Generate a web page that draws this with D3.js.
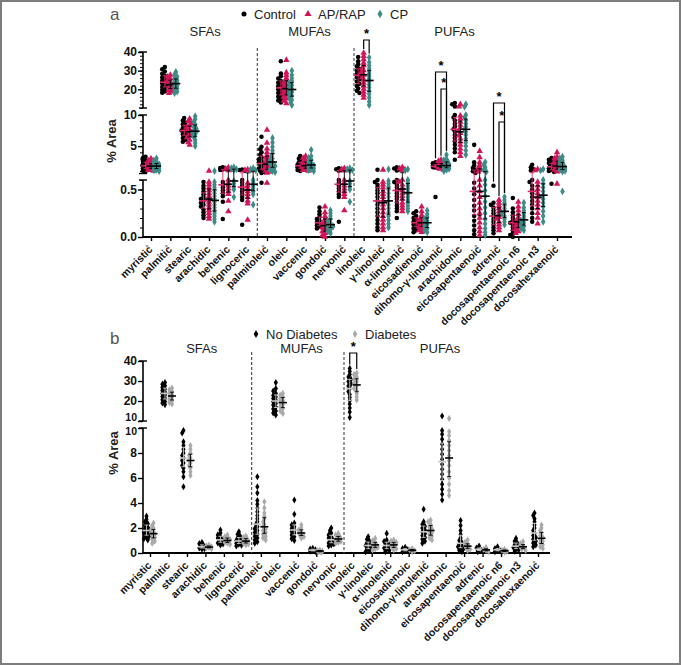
<!DOCTYPE html>
<html><head><meta charset="utf-8">
<script src="https://cdn.jsdelivr.net/npm/d3@7"></script>
<style>body{margin:0;background:#fff}svg{display:block}text{font-family:"Liberation Sans",Arial,sans-serif}</style>
</head><body><svg id="c" width="681" height="665"></svg>
<script>
// ---------------- DATA ----------------
const categories = ["myristic","palmitic","stearic","arachidic","behenic","lignoceric",
  "palmitoleic","oleic","vaccenic","gondoic","nervonic",
  "linoleic","γ-linoleic","α-linolenic","eicosadienoic","dihomo-γ-linolenic","arachidonic",
  "eicosapentaenoic","adrenic","docosapentaenoic n6","docosapentaenoic n3","docosahexaenoic"];
const markedA = [0,1,6,9,10,12,13,14,15,17,18,20,21];
const markedB = [4,5,6,8,9,13,15,17,19,20,21];
const families = ["SFAs","MUFAs","PUFAs"];
const familyBounds = [5.5,10.5];
const familyLabelPos = [2.8,8.2,15.7];
const groupsA = ["Control","AP/RAP","CP"];
const groupsB = ["No Diabetes","Diabetes"];

const controlA = [
 [0.92,1.05,1.18,1.3,1.42,1.55,1.66,1.78,1.85,1.97,2.1,2.25,2.4,2.6,2.85,3.1,3.3],
 [18.2,18.9,19.7,20.5,21.3,22.0,22.6,23.1,23.8,24.6,25.5,26.4,27.3,28.4,29.6,30.8,32.0],
 [5.7,6.0,6.3,6.6,6.9,7.1,7.3,7.5,7.7,7.9,8.2,8.5,8.8,9.1,9.5],
 [0.2,0.23,0.26,0.29,0.32,0.34,0.36,0.38,0.4,0.42,0.45,0.48,0.51,0.54,0.58],
 [0.19,0.37,0.43,0.46,0.49,0.52,0.55,0.58,1.15,1.25,1.35,1.5,1.6],
 [0.13,0.39,0.42,0.45,0.48,0.51,0.54,0.57,0.6,1.05,1.15,1.25],
 [0.57,0.7,0.85,1.0,1.2,1.4,1.6,1.8,2.0,2.2,2.4,2.6,2.9,3.2,3.6,4.0,4.5,4.9,6.5],
 [13,14,15,16,17,18,19,20,20.8,21.6,22.5,23.5,24.5,25.8,27,28.5,35],
 [1.0,1.15,1.3,1.45,1.6,1.75,1.85,2.0,2.2,2.4,2.7,3.0,3.4],
 [0.09,0.1,0.11,0.12,0.13,0.14,0.15,0.17,0.19,0.21,0.24,0.27,0.31],
 [0.16,0.42,0.45,0.48,0.51,0.54,0.57,0.6,1.05,1.15,1.3,1.45],
 [18,19.2,20.5,21.8,23,24.2,25.4,26.5,27.5,28.2,29,30,31,32.2,33.5,35,37.3],
 [0.07,0.1,0.14,0.18,0.22,0.26,0.3,0.34,0.38,0.42,0.46,0.49,0.52,0.55,0.58,0.6,1.2],
 [0.2,0.27,0.3,0.33,0.36,0.4,0.43,0.46,0.49,0.52,0.55,0.58,0.6,1.1,1.25,1.4,1.6],
 [0.05,0.07,0.09,0.11,0.13,0.14,0.15,0.16,0.18,0.2,0.22,0.25,0.27],
 [0.42,1.5,1.55,1.6,1.65,1.7,1.8,1.9,2.0,2.1,2.25,2.4],
 [2.8,4.0,4.6,5.2,5.8,6.3,6.8,7.3,7.7,8.1,8.6,9.1,9.6,10.0,10.8,12.0,12.7],
 [0.03,0.07,0.12,0.17,0.22,0.28,0.33,0.39,0.45,0.51,0.57,0.7,0.95,1.2,1.5,1.9,2.4,5.2],
 [0.04,0.07,0.1,0.13,0.16,0.19,0.22,0.25,0.28,0.31,0.34,0.36,0.54],
 [0.0,0.02,0.04,0.07,0.1,0.13,0.15,0.17,0.2,0.23,0.26,0.3,0.41],
 [0.16,0.2,0.25,0.3,0.34,0.38,0.42,0.46,0.5,0.54,0.58,0.6,1.1,1.3,1.6,2.0],
 [0.56,0.85,1.0,1.15,1.3,1.45,1.6,1.75,1.9,2.1,2.3,2.5,2.8,3.1]
];
const apRapA = [
 [1.0,1.12,1.25,1.38,1.5,1.62,1.75,1.85,1.95,2.1,2.25,2.45,2.7,3.0],
 [18.0,18.8,19.6,20.4,21.2,22.0,22.5,23.2,24.0,24.9,25.8,26.8,27.7],
 [5.2,5.6,6.0,6.4,6.7,7.0,7.2,7.4,7.7,8.0,8.3,8.7,9.0,9.4],
 [0.19,0.22,0.25,0.28,0.31,0.34,0.37,0.4,0.43,0.46,0.49,0.52,0.55,0.58,1.0],
 [0.27,0.38,0.45,0.48,0.51,0.54,0.57,0.6,1.1,1.2,1.35,1.55],
 [0.18,0.35,0.38,0.42,0.45,0.48,0.51,0.54,0.57,1.05,1.15,1.25],
 [0.57,0.7,0.85,1.0,1.2,1.4,1.6,1.8,2.0,2.2,2.5,2.8,3.1,3.5,4.0,4.6,5.5,7.6],
 [12.5,13.8,15,16,17,18,18.8,19.6,20.4,21.3,22.3,23.4,24.6,26,27.5,29,35.7],
 [1.0,1.15,1.3,1.45,1.6,1.72,1.85,2.0,2.2,2.45,2.75,3.1,3.4],
 [0.0,0.02,0.04,0.06,0.08,0.1,0.12,0.14,0.16,0.19,0.22,0.26,0.32],
 [0.28,0.42,0.45,0.48,0.51,0.54,0.57,0.6,1.05,1.15,1.3,1.45],
 [15.4,17,18.6,20.2,21.8,23.4,25,26.5,27.8,29,30.2,31.5,32.8,34.2,36,37.8,39.5],
 [0.07,0.1,0.14,0.18,0.22,0.26,0.3,0.34,0.38,0.42,0.45,0.48,0.52,0.55,0.58,1.2],
 [0.27,0.3,0.33,0.36,0.4,0.43,0.46,0.49,0.52,0.55,0.58,0.6,1.1,1.25,1.4,1.6],
 [0.05,0.07,0.09,0.11,0.13,0.14,0.15,0.16,0.18,0.2,0.23,0.27,0.32],
 [1.2,1.35,1.45,1.55,1.6,1.7,1.8,1.9,2.05,2.2,2.4,2.6,2.8],
 [3.4,4.0,4.6,5.2,5.7,6.2,6.7,7.1,7.5,7.9,8.4,8.9,9.4,9.9,10.7,12.0],
 [0.02,0.06,0.1,0.15,0.2,0.25,0.3,0.36,0.42,0.48,0.54,0.6,0.9,1.2,1.5,1.9,2.4,3.2,4.2],
 [0.07,0.1,0.13,0.16,0.19,0.21,0.24,0.27,0.3,0.33,0.36,0.39],
 [0.04,0.06,0.08,0.1,0.12,0.14,0.16,0.18,0.21,0.24,0.28,0.32,0.37],
 [0.14,0.2,0.25,0.3,0.34,0.38,0.42,0.46,0.5,0.54,0.58,1.1,1.3],
 [0.56,0.9,1.05,1.2,1.35,1.5,1.65,1.8,2.0,2.2,2.45,2.7,3.0,3.3,4.0]
];
const cpA = [
 [1.0,1.1,1.2,1.35,1.5,1.62,1.74,1.85,1.96,2.1,2.25,2.45,2.7,3.0],
 [18.0,18.8,19.6,20.4,21.2,22.0,22.7,23.4,24.1,24.9,25.8,26.8,28.0,29.3],
 [5.0,5.5,6.0,6.4,6.8,7.1,7.3,7.5,7.8,8.1,8.5,8.9,9.3,9.8],
 [0.16,0.19,0.22,0.25,0.28,0.31,0.34,0.37,0.4,0.43,0.46,0.49,0.52,0.55,0.58,1.0],
 [0.42,0.5,0.53,0.56,0.59,1.15,1.3,1.45,1.6],
 [0.34,0.45,0.48,0.51,0.54,0.57,0.6,1.1,1.25,1.45],
 [0.85,1.0,1.2,1.4,1.6,1.8,2.0,2.2,2.45,2.7,3.0,3.4,3.8,4.3,4.9,5.6,6.3],
 [11.6,13,14.3,15.5,16.6,17.6,18.6,19.5,20.3,21.2,22.2,23.3,24.5,26,27.7,30],
 [1.0,1.15,1.3,1.45,1.6,1.75,1.9,2.05,2.25,2.5,2.8,3.1,3.4,4.4],
 [0.04,0.06,0.08,0.1,0.11,0.12,0.13,0.15,0.17,0.19,0.22,0.25,0.28],
 [0.37,0.5,0.53,0.56,0.59,1.05,1.15,1.3,1.45],
 [11.6,13.5,15.5,17.5,19.3,21,22.5,24,25.5,27,28.4,29.8,31.2,32.8,34.5,37],
 [0.1,0.14,0.18,0.22,0.26,0.3,0.34,0.38,0.42,0.46,0.5,0.53,0.56,0.59,1.3],
 [0.27,0.3,0.33,0.36,0.39,0.42,0.45,0.48,0.51,0.54,0.57,0.6,1.1,1.3],
 [0.05,0.07,0.09,0.11,0.13,0.15,0.17,0.19,0.21,0.24,0.28],
 [1.0,1.2,1.35,1.5,1.6,1.7,1.8,1.95,2.1,2.3,2.5,2.75,2.9,3.6],
 [3.6,4.3,5.0,5.6,6.2,6.8,7.3,7.7,8.1,8.6,9.1,9.6,10.0,10.7,12.0],
 [0.02,0.05,0.09,0.14,0.19,0.25,0.31,0.37,0.43,0.49,0.55,0.6,0.9,1.2,1.6,2.0,2.4],
 [0.13,0.16,0.19,0.22,0.25,0.27,0.3,0.33,0.36,0.39,0.42],
 [0.07,0.09,0.11,0.13,0.15,0.17,0.19,0.22,0.25,0.28,0.31,0.36],
 [0.16,0.22,0.27,0.32,0.36,0.4,0.44,0.48,0.52,0.56,0.6,1.1,1.3],
 [0.48,0.9,1.05,1.2,1.35,1.5,1.65,1.8,2.0,2.2,2.45,2.7,3.0,3.3]
];
const noDiabetesB = [
 [1.05,1.15,1.25,1.35,1.45,1.55,1.65,1.75,1.85,1.95,2.05,2.2,2.35,2.5,2.7,2.95],
 [18.2,19,19.8,20.6,21.4,22.2,23,23.8,24.5,25.3,26,26.8,27.6,28.4,29.2],
 [5.3,6.1,6.5,6.8,7.0,7.2,7.4,7.6,7.8,8.0,8.3,8.6,8.9,9.6,9.8],
 [0.3,0.35,0.4,0.45,0.5,0.55,0.65,0.75,0.85],
 [0.64,0.72,0.8,0.88,0.95,1.0,1.1,1.2,1.3,1.45,1.6,1.84],
 [0.56,0.62,0.7,0.78,0.85,0.92,1.0,1.1,1.2,1.35,1.5,1.7],
 [0.78,0.9,1.05,1.2,1.35,1.5,1.65,1.8,1.95,2.1,2.3,2.5,2.75,3.0,3.3,3.6,3.9,4.2,4.8,5.3,6.1],
 [13,14,15,16,17,18,18.8,19.6,20.4,21.2,22,22.8,23.8,25,26.2,29.2],
 [1.0,1.15,1.3,1.45,1.6,1.72,1.84,1.96,2.1,2.25,2.4,3.1,4.24],
 [0.1,0.15,0.2,0.26,0.32,0.37],
 [0.56,0.64,0.72,0.8,0.88,0.95,1.02,1.1,1.2,1.3,1.45,1.6,1.8,2.0],
 [11.8,14.5,16.5,18.5,20.2,21.8,23.3,24.8,26.2,27.5,28.6,29.7,30.8,32,33.3,34.8,36.3],
 [0.1,0.2,0.3,0.4,0.5,0.6,0.7,0.8,0.95,1.1,1.3],
 [0.1,0.2,0.3,0.4,0.5,0.6,0.7,0.8,0.92,1.04,1.57],
 [0.1,0.18,0.26,0.35,0.45],
 [0.78,0.95,1.1,1.25,1.4,1.55,1.7,1.85,2.0,2.15,2.3,2.5,3.5],
 [4.24,4.7,5.1,5.5,5.9,6.3,6.7,7.1,7.5,7.9,8.3,8.7,9.1,9.5,9.8,12.5],
 [0.1,0.2,0.3,0.4,0.5,0.6,0.7,0.85,1.0,1.2,1.5,1.8,2.2,2.6],
 [0.1,0.2,0.3,0.4,0.56],
 [0.1,0.18,0.26,0.35,0.5],
 [0.15,0.25,0.35,0.45,0.55,0.65,0.8,0.95,1.17],
 [0.5,0.65,0.8,0.95,1.1,1.25,1.4,1.6,1.8,2.0,2.25,2.5,2.75,3.0,3.2]
];
const diabetesB = [
 [0.78,0.95,1.1,1.25,1.4,1.5,1.6,1.7,1.85,2.0,2.2,2.4],
 [18.5,19.3,20.1,20.9,21.7,22.5,23.2,24,24.8,25.6,26.5],
 [6.2,6.5,6.8,7.0,7.2,7.4,7.6,7.8,8.0,8.3,8.6],
 [0.35,0.4,0.45,0.5,0.58,0.64],
 [0.7,0.78,0.85,0.92,1.0,1.1,1.2,1.3,1.44],
 [0.64,0.72,0.8,0.88,0.95,1.05,1.15,1.25,1.36],
 [1.04,1.2,1.35,1.5,1.65,1.8,1.95,2.1,2.3,2.5,2.7,2.95,3.2,3.6,4.1],
 [13.8,15,16.2,17.2,18.2,19.2,20.2,21.2,22.2,23,23.8],
 [1.2,1.3,1.4,1.5,1.6,1.7,1.85,2.0,2.24],
 [0.05,0.1,0.15,0.2,0.24],
 [0.78,0.85,0.92,1.0,1.08,1.16,1.25,1.35,1.45,1.57],
 [20.5,22,23.5,25,26.3,27.5,28.6,29.7,30.8,32,33.2,34],
 [0.24,0.35,0.45,0.55,0.65,0.75,0.85,1.0,1.17],
 [0.24,0.35,0.45,0.55,0.65,0.75,0.85,0.95,1.04],
 [0.1,0.18,0.26,0.34],
 [1.04,1.2,1.35,1.5,1.65,1.8,1.95,2.1,2.3,2.5,2.64],
 [4.6,5.0,5.5,6.0,6.5,7.0,7.4,7.8,8.2,8.6,9.0,9.4,9.7,11.3],
 [0.2,0.3,0.4,0.5,0.6,0.7,0.85,1.04],
 [0.1,0.2,0.3,0.45],
 [0.06,0.14,0.22,0.3],
 [0.2,0.3,0.4,0.5,0.6,0.75,0.9],
 [0.37,0.5,0.65,0.8,0.95,1.1,1.25,1.4,1.6,1.8,2.0,2.24]
];
const sigA = [[11,1,2],[15,0,2],[15,1,2],[18,0,2],[18,1,2]];
const sigB = [[11,0,1]];
const yTicksA = [[0,0.5],[5,10],[20,30,40]];
const yTickTextA = [["0.0","0.5"],["5","10"],["20","30","40"]];
const yMinorA = [0.1,1,2];
const yTicksB = [[0,2,4,6,8,10],[10,20,30,40]];
const yTickTextB = [["0","2","4","6","8","10"],["10","20","30","40"]];

// ---------------- LAYOUT / STYLE ----------------
const svg = d3.select("#c");
svg.append("rect").attr("x",1).attr("y",1).attr("width",679).attr("height",663)
  .attr("fill","#fff").attr("stroke","#7d7d7d").attr("stroke-width",2);

const colorsA = ["#000000","#d4145a","#3c8b87"];
const medColA = ["#e0266e","#000","#000"];
const shapesA = [d3.symbolCircle,d3.symbolTriangle,d3.symbolDiamond];
const sizesA = [16,18,18];
const colorsB = ["#000000","#a9a9a9"];
const medColB = ["#c8c8c8","#000"];

function segScale(segs){
  return v => { for (const s of segs) if (v <= s.max) return s.sc(v); return segs[segs.length-1].sc(v); };
}
function swarm(ys, step, minD){
  const order = ys.map((y,i)=>[y,i]).sort((a,b)=>a[0]-b[0]);
  const placed=[], off=new Array(ys.length);
  const cands=[0,-step,step,-2*step,2*step];
  for (const [y,i] of order){
    let best=0,bestD=-1;
    for (const c of cands){
      let md=Infinity;
      for (const p of placed){ const d=Math.hypot(p[0]-c,p[1]-y); if(d<md) md=d; }
      if (md>=minD){best=c;break;}
      if (md>bestD){bestD=md;best=c;}
    }
    placed.push([best,y]); off[i]=best;
  }
  return off;
}

function drawPanel(cfg){
  const g = svg.append("g");
  const x = d3.scalePoint().domain(d3.range(categories.length)).range(cfg.xRange);
  const step = x.step();
  const y = segScale(cfg.segs);
  const ax = cfg.axisX, ay = cfg.axisY;

  g.append("text").attr("transform",`translate(${cfg.titleX},${cfg.titleY}) rotate(-90)`)
    .attr("text-anchor","middle").attr("font-size",13).attr("font-weight","bold").attr("fill","#222").text("% Area");
  g.append("text").attr("x",110).attr("y",cfg.letterY).attr("font-size",17).attr("fill","#555").text(cfg.letter);

  cfg.segs.forEach((s,k)=>{
    const r = s.sc.range();
    g.append("line").attr("x1",ax).attr("x2",ax).attr("y1",r[0]).attr("y2",r[1])
      .attr("stroke","#000").attr("stroke-width",1.6);
    const a = g.append("g").attr("transform",`translate(${ax},0)`)
      .call(d3.axisLeft(s.sc).tickValues(cfg.yTicks[k]).tickSize(5).tickFormat(""));
    a.select(".domain").remove();
    a.selectAll(".tick line").attr("stroke-width",1.4);
    if (cfg.minor) {
      const d=s.sc.domain(); const m=cfg.minor[k];
      const vals=d3.range(Math.ceil(d[0]/m-1e-9)*m, d[1]+1e-9, m);
      const mg = g.append("g").attr("transform",`translate(${ax},0)`)
        .call(d3.axisLeft(s.sc).tickValues(vals).tickSize(3).tickFormat(""));
      mg.select(".domain").remove();
    }
    r.forEach(py=>{
      if (Math.abs(py-ay)<0.5) return;
      g.append("line").attr("x1",ax-4).attr("x2",ax+4).attr("y1",py).attr("y2",py)
        .attr("stroke","#000").attr("stroke-width",1.4);
    });
  });
  // tick labels (drawn after all axis groups)
  cfg.segs.forEach((s,k)=>{
    cfg.yTicks[k].forEach((v,j)=>{
      const t = cfg.yText[k][j];
      let dy = 0, fs = 12;
      if (cfg.nudge && cfg.nudge[k] && cfg.nudge[k][j]) { dy = cfg.nudge[k][j]; fs = 10.5; }
      g.append("text").attr("class","ytl").attr("x",ax-6).attr("y",s.sc(v)+dy).attr("dy","0.35em")
        .attr("text-anchor","end").attr("font-size",fs).attr("font-weight","bold")
        .attr("fill","#111").text(t);
    });
  });
  g.append("line").attr("x1",ax).attr("x2",cfg.xEnd).attr("y1",ay).attr("y2",ay)
    .attr("stroke","#000").attr("stroke-width",1.8);
  const xa = g.append("g").attr("transform",`translate(0,${ay})`)
    .call(d3.axisBottom(x).tickSize(4).tickFormat(""));
  xa.select(".domain").remove();
  xa.selectAll(".tick line").attr("stroke-width",1.4);
  categories.forEach((c,i)=>{
    g.append("text").attr("transform",`translate(${x(i)-3},${ay+8}) rotate(-45)`)
      .attr("text-anchor","end").attr("dy","0.7em").attr("font-size",10.5)
      .attr("font-weight","bold").attr("fill","#111").text(c);
    if (cfg.marked.includes(i))
      g.append("text").attr("x",x(i)-4).attr("y",ay+11).attr("text-anchor","middle")
        .attr("font-size",6).attr("fill","#555").text("×");
  });
  familyBounds.forEach(b=>{
    const xx = x(0)+b*step;
    g.append("line").attr("x1",xx).attr("x2",xx).attr("y1",cfg.sepTop).attr("y2",ay)
      .attr("stroke","#555").attr("stroke-width",1.2).attr("stroke-dasharray","3,2");
  });
  families.forEach((f,k)=>{
    g.append("text").attr("x",x(0)+familyLabelPos[k]*step).attr("y",cfg.famY)
      .attr("text-anchor","middle").attr("font-size",13).attr("fill","#222").text(f);
  });

  cfg.series.forEach((ser,si)=>{
    ser.forEach((vals,ci)=>{
      const cx = x(ci)+cfg.offsets[si];
      const ys = vals.map(y);
      const off = swarm(ys,cfg.spread,cfg.minD);
      const sym = d3.symbol().type(cfg.shapes[si]).size(cfg.sizes[si]);
      g.append("g").selectAll("path").data(vals).join("path")
        .attr("d",sym).attr("fill",cfg.colors[si])
        .attr("transform",(d,k)=>`translate(${cx+off[k]},${ys[k]})`);
      const sorted = vals.slice().sort(d3.ascending);
      const med = d3.quantile(sorted,0.5), q1=d3.quantile(sorted,0.25), q3=d3.quantile(sorted,0.75);
      const mc = cfg.medCol[si];
      g.append("line").attr("x1",cx).attr("x2",cx).attr("y1",y(q1)).attr("y2",y(q3))
        .attr("stroke",mc).attr("stroke-width",0.9);
      [q1,q3].forEach(q=>g.append("line").attr("x1",cx-2).attr("x2",cx+2).attr("y1",y(q)).attr("y2",y(q))
        .attr("stroke",mc).attr("stroke-width",0.9));
      g.append("line").attr("x1",cx-cfg.medW).attr("x2",cx+cfg.medW).attr("y1",y(med)).attr("y2",y(med))
        .attr("stroke",mc).attr("stroke-width",1.6);
    });
  });
  cfg.sig.forEach((s,k)=>{
    const [ci,a,b]=s; const top=cfg.sigTop[k];
    const xa1=x(ci)+cfg.offsets[a], xb=x(ci)+cfg.offsets[b];
    const ya=y(d3.max(cfg.series[a][ci]))-4, yb=y(d3.max(cfg.series[b][ci]))-4;
    g.append("path").attr("d",`M${xa1},${ya}V${top}H${xb}V${yb}`)
      .attr("fill","none").attr("stroke","#000").attr("stroke-width",1.2);
    g.append("text").attr("x",(xa1+xb)/2).attr("y",top-2).attr("text-anchor","middle")
      .attr("font-size",13).attr("font-weight","bold").text("*");
  });
  cfg.legend.forEach((l,k)=>{
    g.append("path").attr("d",d3.symbol().type(cfg.shapes[k]).size(cfg.sizes[k]+4)())
      .attr("fill",cfg.colors[k]).attr("transform",`translate(${l[0]},${l[1]})`);
    g.append("text").attr("x",l[0]+10).attr("y",l[1]+5).attr("font-size",13).attr("fill","#222").text(cfg.groups[k]);
  });
}

drawPanel({
  letter:"a", letterY:20,
  xRange:[151,557], axisX:143, axisY:237, xEnd:572,
  segs:[{max:0.6,sc:d3.scaleLinear().domain([0,0.6]).range([237,180])},
        {max:10,sc:d3.scaleLinear().domain([0.6,10]).range([173.5,115])},
        {max:Infinity,sc:d3.scaleLinear().domain([10,40]).range([108,52])}],
  yTicks:yTicksA, yText:yTickTextA, minor:yMinorA,
  marked:markedA, sepTop:48, famY:36, titleX:116, titleY:141,
  series:[controlA,apRapA,cpA], offsets:[-5.5,0,5.5], colors:colorsA, shapes:shapesA, sizes:sizesA,
  medCol:medColA, medW:4.5, spread:1.3, minD:2.6,
  sig:sigA, sigTop:[40,72,89,103,122],
  legend:[[244,14],[308,14],[380,14]], groups:groupsA
});
drawPanel({
  letter:"b", letterY:344,
  xRange:[150,538], axisX:143, axisY:553, xEnd:550,
  segs:[{max:10,sc:d3.scaleLinear().domain([0,10]).range([553,428])},
        {max:Infinity,sc:d3.scaleLinear().domain([10,40]).range([421,361])}],
  yTicks:yTicksB, yText:yTickTextB, minor:null, nudge:[[0,0,0,0,0,3],[-4,0,0,0]],
  marked:markedB, sepTop:352, famY:353, titleX:118, titleY:453,
  series:[noDiabetesB,diabetesB], offsets:[-3.5,3.5], colors:colorsB,
  shapes:[d3.symbolDiamond,d3.symbolDiamond], sizes:[15,15],
  medCol:medColB, medW:4, spread:1.3, minD:2.8,
  sig:sigB, sigTop:[353],
  legend:[[256,334],[355,334]], groups:groupsB
});
</script></body></html>
